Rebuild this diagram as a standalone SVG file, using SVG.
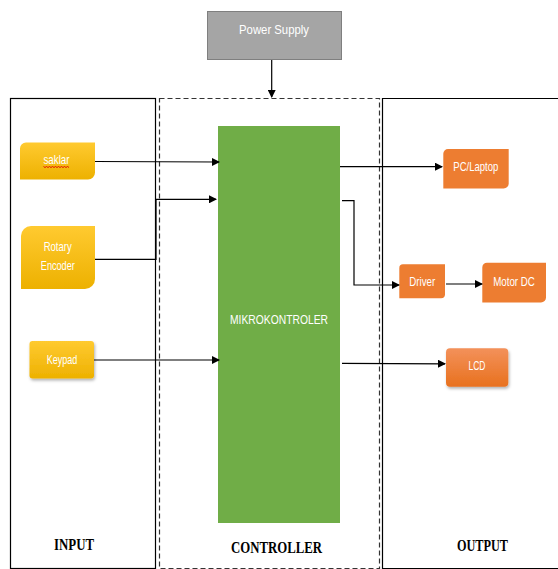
<svg xmlns="http://www.w3.org/2000/svg" width="558" height="569" viewBox="0 0 558 569">
  <defs>
    <linearGradient id="gy" x1="0" y1="0" x2="0" y2="1">
      <stop offset="0" stop-color="#FFCA30"/>
      <stop offset="1" stop-color="#EDB100"/>
    </linearGradient>
    <linearGradient id="go" x1="0" y1="0" x2="0" y2="1">
      <stop offset="0" stop-color="#F3915A"/>
      <stop offset="1" stop-color="#E8711E"/>
    </linearGradient>
    <marker id="arr" markerWidth="8" markerHeight="8" refX="7" refY="4" orient="auto" markerUnits="userSpaceOnUse">
      <path d="M0,0 L8,4 L0,8 Z" fill="#000"/>
    </marker>
    <filter id="sh" x="-20%" y="-20%" width="150%" height="160%">
      <feDropShadow dx="1" dy="2" stdDeviation="1.5" flood-color="#000" flood-opacity="0.3"/>
    </filter>
  </defs>
  <style>
    .frame { fill: none; stroke: #000; stroke-width: 1.2; }
    .dash { fill: none; stroke: #333; stroke-width: 1.2; stroke-dasharray: 5 3; }
    .conn { fill: none; stroke: #000; stroke-width: 1.2; }
    .lbl { font-family: "Liberation Sans", Arial, sans-serif; font-size: 13px; fill: #fff; text-anchor: middle; }
    .sec { font-family: "Liberation Serif", "Times New Roman", serif; font-size: 16px; font-weight: bold; fill: #000; text-anchor: middle; }
    .yel { fill: url(#gy); }
    .org { fill: #ED7D31; }
  </style>

  <g id="sections">
    <rect class="frame" x="10.5" y="98.5" width="145" height="470"/>
    <rect class="dash" x="159.5" y="98.5" width="220" height="470"/>
    <path class="frame" d="M558,98.5 H382.5 V568.5 H558"/>
    <text class="sec" x="74" y="550" textLength="40" lengthAdjust="spacingAndGlyphs">INPUT</text>
    <text class="sec" x="276.5" y="553" textLength="91" lengthAdjust="spacingAndGlyphs">CONTROLLER</text>
    <text class="sec" x="482.5" y="551" textLength="51" lengthAdjust="spacingAndGlyphs">OUTPUT</text>
  </g>

  <g id="power-supply">
    <rect x="207.5" y="11.5" width="134" height="48" fill="#A5A5A5" stroke="#7F7F7F" stroke-width="1"/>
    <text class="lbl" x="274" y="33.5" fill="#F2F2F2" textLength="70" lengthAdjust="spacingAndGlyphs">Power Supply</text>
  </g>

  <g id="mikrokontroler">
    <rect x="218" y="126" width="122" height="397" fill="#70AD47"/>
    <text class="lbl" x="279" y="324" textLength="98" lengthAdjust="spacingAndGlyphs">MIKROKONTROLER</text>
  </g>

  <g id="saklar">
    <path class="yel" d="M26,142.5 H95 V172.5 A7,7 0 0 1 88,179.5 H20 V148.5 A6,6 0 0 1 26,142.5 Z"/>
    <text class="lbl" x="56.5" y="164" textLength="26" lengthAdjust="spacingAndGlyphs">saklar</text>
    <path d="M43.5,166.5 l1.5,1 l1.5,-1 l1.5,1 l1.5,-1 l1.5,1 l1.5,-1 l1.5,1 l1.5,-1 l1.5,1 l1.5,-1 l1.5,1 l1.5,-1 l1.5,1 l1.5,-1 l1.5,1 l1.5,-1 l1.5,1" fill="none" stroke="#E00000" stroke-width="0.9"/>
  </g>

  <g id="rotary-encoder">
    <path class="yel" d="M31,226 H95 V279 A10,10 0 0 1 85,289 H21 V236 A10,10 0 0 1 31,226 Z"/>
    <text class="lbl" x="57.7" y="251" textLength="28" lengthAdjust="spacingAndGlyphs">Rotary</text>
    <text class="lbl" x="57.8" y="270" textLength="34" lengthAdjust="spacingAndGlyphs">Encoder</text>
  </g>

  <g id="keypad">
    <rect class="yel" x="29.5" y="341" width="64.5" height="37.5" rx="3" filter="url(#sh)"/>
    <text class="lbl" x="62" y="364" textLength="30.6" lengthAdjust="spacingAndGlyphs">Keypad</text>
  </g>

  <g id="pc-laptop">
    <path class="org" d="M448,149 H508.7 V183.5 A5,5 0 0 1 503.7,188.5 H443.3 V153.7 A4.7,4.7 0 0 1 448,149 Z"/>
    <text class="lbl" x="475.8" y="171" textLength="45" lengthAdjust="spacingAndGlyphs">PC/Laptop</text>
  </g>

  <g id="driver">
    <path class="org" d="M403,264.3 H445 V294.3 A4,4 0 0 1 441,298.3 H399.3 V268 A3.7,3.7 0 0 1 403,264.3 Z"/>
    <text class="lbl" x="422.3" y="285.7" textLength="26" lengthAdjust="spacingAndGlyphs">Driver</text>
  </g>

  <g id="motor-dc">
    <path class="org" d="M487,262.7 H546 V297.5 A5,5 0 0 1 541,302.5 H482.3 V267.4 A4.7,4.7 0 0 1 487,262.7 Z"/>
    <text class="lbl" x="514" y="285.7" textLength="41.7" lengthAdjust="spacingAndGlyphs">Motor DC</text>
  </g>

  <g id="lcd">
    <rect x="446" y="348.3" width="62.3" height="38.4" rx="4" fill="url(#go)" filter="url(#sh)"/>
    <text class="lbl" x="477" y="370" textLength="17" lengthAdjust="spacingAndGlyphs">LCD</text>
  </g>

  <g id="connectors">
    <line class="conn" x1="271.7" y1="60" x2="271.7" y2="97" marker-end="url(#arr)"/>
    <line class="conn" x1="95" y1="161.5" x2="219" y2="162" marker-end="url(#arr)"/>
    <path class="conn" d="M95,259.3 H156 V199.3 H216" marker-end="url(#arr)"/>
    <line class="conn" x1="94" y1="360" x2="219" y2="360" marker-end="url(#arr)"/>
    <line class="conn" x1="340" y1="166.7" x2="442" y2="166.7" marker-end="url(#arr)"/>
    <path class="conn" d="M342,200.7 H354 V285 H399" marker-end="url(#arr)"/>
    <line class="conn" x1="446" y1="284" x2="482" y2="284" marker-end="url(#arr)"/>
    <line class="conn" x1="342" y1="363.3" x2="445" y2="363.8" marker-end="url(#arr)"/>
  </g>
</svg>
